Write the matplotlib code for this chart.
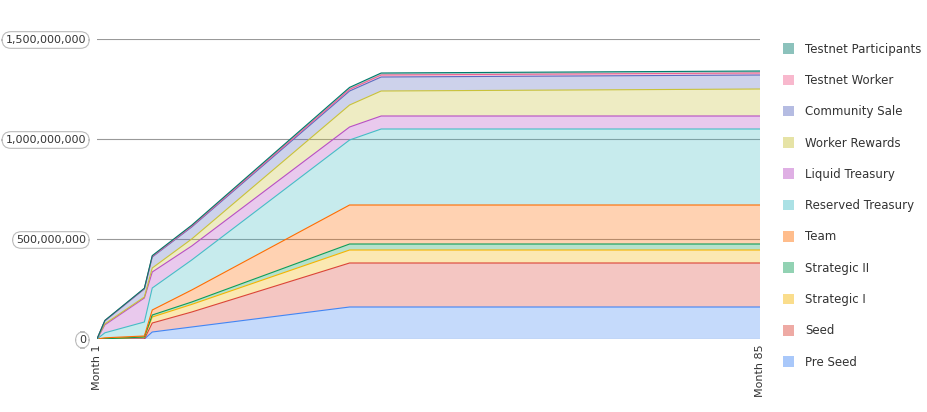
import numpy as np
from matplotlib import pyplot as plt
from matplotlib.patches import Patch

months = [1, 2, 7, 8, 13, 33, 37, 85]

# cumulative unlocked tokens, millions
pre_seed = [0, 0, 0, 35, 60, 160, 160, 160]
seed = [0, 0, 0, 45, 75, 220, 220, 220]
strategic_1 = [0, 1, 10, 30, 38, 65, 65, 65]
strategic_2 = [0, 0, 0, 10, 12, 30, 30, 30]
team = [0, 5, 5, 25, 60, 195, 195, 195]
reserved_treasury = [0, 25, 70, 110, 150, 325, 380, 380]
liquid_treasury = [0, 40, 120, 80, 70, 65, 65, 65]
worker_rewards = [0, 5, 5, 20, 35, 110, 125, 135]
community_sale = [0, 15, 40, 55, 60, 70, 70, 70]
testnet_worker = [0, 1, 2, 3, 4, 8, 10, 10]
testnet_participants = [0, 1, 2, 4, 5, 10, 10, 10]

labels = ["Pre Seed", "Seed", "Strategic I", "Strategic II", "Team",
          "Reserved Treasury", "Liquid Treasury", "Worker Rewards",
          "Community Sale", "Testnet Worker", "Testnet Participants"]
series = [pre_seed, seed, strategic_1, strategic_2, team, reserved_treasury,
          liquid_treasury, worker_rewards, community_sale, testnet_worker,
          testnet_participants]
colors = ["#4285F4", "#DB4437", "#F4B400", "#0F9D58", "#FF6D01", "#46BDC6",
          "#B84FC4", "#C9C23A", "#5C6BC0", "#F06292", "#00796B"]

fig = plt.figure(figsize=(9.27, 4.12), dpi=100)
ax = fig.add_axes([97 / 927, 73 / 412, 663 / 927, 300 / 412])

x = np.array(months)
vals = np.array(series, dtype=float) * 1e6
bottom = np.zeros(len(x))
for v, c in zip(vals, colors):
    top = bottom + v
    ax.fill_between(x, bottom, top, facecolor=c, alpha=0.3, linewidth=0)
    ax.plot(x, top, color=c, linewidth=0.8)
    bottom = top

ax.set_xlim(1, 85)
ax.set_ylim(0, 1.5e9)
ax.set_yticks([0, 5e8, 1e9, 1.5e9])
ax.set_yticklabels(["0", "500,000,000", "1,000,000,000", "1,500,000,000"])
ax.grid(axis="y", color="#999999", linewidth=0.8)
ax.set_axisbelow(True)
for s in ax.spines.values():
    s.set_visible(False)
ax.tick_params(axis="y", length=0, pad=8, labelsize=8, labelcolor="#333333")
for t in ax.get_yticklabels():
    t.set_bbox(dict(boxstyle="round,pad=0.3,rounding_size=0.8", fc="white",
                    ec="#bbbbbb", lw=0.8))
ax.set_xticks([1, 85])
ax.set_xticklabels(["Month 1", "Month 85"], rotation=90, fontsize=8, color="#333333")
ax.tick_params(axis="x", length=0, pad=4)

handles = [Patch(facecolor=c, alpha=0.45, edgecolor="none") for c in colors]
fig.legend(handles[::-1], labels[::-1], loc="upper left",
           bbox_to_anchor=(772 / 927, 1 - 32 / 412), frameon=False,
           fontsize=8.5, labelspacing=1.55, handlelength=1.0, handleheight=1.0,
           handletextpad=0.9, labelcolor="#333333")

fig.savefig("out.png", dpi=100)
